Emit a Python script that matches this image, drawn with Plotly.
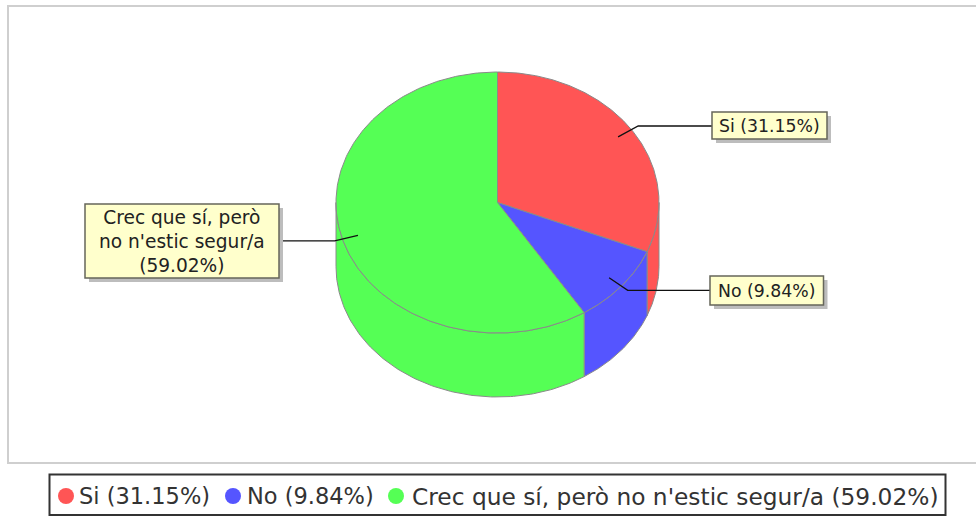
import numpy as np
import plotly.graph_objects as go

# Data
categories = ["Si", "No", "Crec que sí, però no n'estic segur/a"]
percentages = [31.15, 9.84, 59.02]
colors = ["#FF5555", "#5555FF", "#55FF55"]
callout_labels = ["Si (31.15%)", "No (9.84%)", "Crec que sí, però<br>no n'estic segur/a<br>(59.02%)"]
legend_labels = ["Si (31.15%)", "No (9.84%)", "Crec que sí, però no n'estic segur/a (59.02%)"]

# Layout geometry (pixel-like axis units)
W, H = 976, 516
CX, CY, RX, RY, DEPTH = 497.5, 202.5, 161.5, 130.5, 64
EDGE = "#8a8a8a"
callout_boxes = [(712, 112, 827, 139), (710, 276, 823.5, 305), (85, 204, 279, 278)]
callout_ends = [712, 710, 279]
callout_sizes = [17.3, 17.3, 18.6]
legend_marker_x = [66, 233, 396]
legend_text_x = [77, 245, 410]
legend_sizes = [22.5, 22.5, 23.3]
LEGEND_Y = 496
TEXT_FONT = "DejaVu Sans"


def pt(deg, scale=1.0, dy=0.0):
    a = np.radians(deg)
    return CX + RX * scale * np.sin(a), CY - RY * scale * np.cos(a) + dy


fig = go.Figure()
total = sum(percentages)
edges = np.concatenate([[0], np.cumsum(percentages) / total * 360])

# Side walls (visible front half, from 90 to 270 degrees)
for i in range(len(percentages)):
    lo, hi = max(edges[i], 90), min(edges[i + 1], 270)
    if hi <= lo:
        continue
    t = np.linspace(lo, hi, 120)
    xt, yt = pt(t)
    xb, yb = pt(t[::-1], dy=DEPTH)
    fig.add_trace(go.Scatter(x=np.r_[xt, xb, xt[0]], y=np.r_[yt, yb, yt[0]], mode="lines",
                             fill="toself", fillcolor=colors[i],
                             line=dict(color=EDGE, width=1), hoverinfo="skip", showlegend=False))

# Top face wedges
for i in range(len(percentages)):
    t = np.linspace(edges[i], edges[i + 1], 240)
    xt, yt = pt(t)
    fig.add_trace(go.Scatter(x=np.r_[CX, xt, CX], y=np.r_[CY, yt, CY], mode="lines",
                             fill="toself", fillcolor=colors[i],
                             line=dict(color=EDGE, width=1), hoverinfo="skip", showlegend=False))

# Leader lines, anchored on each slice's mid angle
for i in range(len(percentages)):
    mid = (edges[i] + edges[i + 1]) / 2
    x0, y0 = pt(mid, 0.9)
    x1, y1 = pt(mid, 1.05)
    fig.add_trace(go.Scatter(x=[x0, x1, callout_ends[i]], y=[y0, y1, y1], mode="lines",
                             line=dict(color="#111111", width=1.3), hoverinfo="skip", showlegend=False))

# Legend markers
fig.add_trace(go.Scatter(x=legend_marker_x, y=[LEGEND_Y] * 3, mode="markers",
                         marker=dict(size=16, color=colors, line=dict(width=0)),
                         hoverinfo="skip", showlegend=False))

shapes = [
    dict(type="rect", x0=8, y0=6, x1=W + 10, y1=463, line=dict(color="#cfcfcf", width=2), fillcolor="rgba(0,0,0,0)", layer="below"),
    dict(type="rect", x0=49.5, y0=474.5, x1=945.5, y1=515, line=dict(color="#333333", width=2), fillcolor="white", layer="below"),
]
annotations = []
for (x0, y0, x1, y1), label, size in zip(callout_boxes, callout_labels, callout_sizes):
    shapes.append(dict(type="rect", x0=x0 + 4, y0=y0 + 4, x1=x1 + 4, y1=y1 + 4,
                       line=dict(width=0), fillcolor="#bdbdbd", layer="above"))
    shapes.append(dict(type="rect", x0=x0, y0=y0, x1=x1, y1=y1,
                       line=dict(color="#66665a", width=1.5), fillcolor="#FFFFCC", layer="above"))
    annotations.append(dict(x=(x0 + x1) / 2, y=(y0 + y1) / 2, xref="x", yref="y", text=label, showarrow=False,
                            font=dict(family=TEXT_FONT, size=size, color="#222222"), align="center"))
for x, label, size in zip(legend_text_x, legend_labels, legend_sizes):
    annotations.append(dict(x=x, y=LEGEND_Y, xref="x", yref="y", text=label, showarrow=False, xanchor="left",
                            font=dict(family=TEXT_FONT, size=size, color="#333333")))

fig.update_layout(
    width=W, height=H, margin=dict(l=0, r=0, t=0, b=0),
    paper_bgcolor="white", plot_bgcolor="white", showlegend=False,
    xaxis=dict(range=[0, W], visible=False, fixedrange=True),
    yaxis=dict(range=[H, 0], visible=False, fixedrange=True),
    shapes=shapes, annotations=annotations,
)
fig.write_html("out.html", config={"displayModeBar": False},
               post_script="document.body.style.margin='0';document.body.style.overflow='hidden';")
